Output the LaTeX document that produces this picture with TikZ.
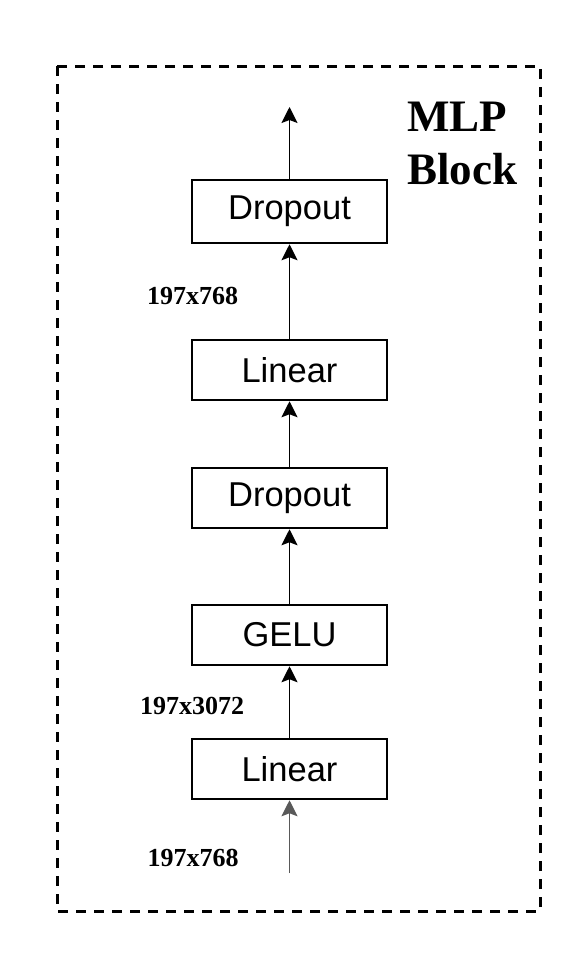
\documentclass[tikz,border=0pt]{standalone}
\usepackage{fontspec}
\setmainfont{Liberation Serif}
\newfontfamily\boxfont{Liberation Sans}
\usepackage{tikz}
\usetikzlibrary{positioning,arrows.meta}

\begin{document}
\begin{tikzpicture}[
      x=1pt, y=-1pt,
      node distance=70pt,
      block/.style={draw, line width=2.5pt, minimum width=195pt, minimum height=60pt, inner sep=0pt, font=\boxfont\fontsize{34.5}{40}\selectfont},
      dimlabel/.style={inner sep=0pt, font=\bfseries\fontsize{26}{30}\selectfont},
      arrow/.style={-{Stealth[length=16pt, width=16pt, inset=3pt]}, line width=1.5pt},
      frame/.style={line width=3pt, dash pattern=on 10pt off 8pt}
    ]
    \useasboundingbox (0,0) rectangle (569,964);
    \draw[frame] (57,66) rectangle (540,911);
    \node[inner sep=0pt, anchor=north west, align=left, font=\bfseries\fontsize{45}{53}\selectfont] (title) at (407,102) {MLP\\Block};

    \node[block] (lin1) at (289.5,769) {Linear};
    \node[block] (gelu) [above=71.5pt of lin1] {GELU};
    \node[block] (drop1) [above=74.5pt of gelu] {Dropout};
    \node[block] (lin2) [above=65.5pt of drop1] {Linear};
    \node[block, minimum height=63pt] (drop2) [above=94.5pt of lin2] {Dropout};

    \coordinate (in) at (289.5,873);
    \coordinate (out) at (289.5,107);

    \draw[arrow, black!65] (in) -- (lin1);
    \draw[arrow] (lin1) -- (gelu);
    \draw[arrow] (gelu) -- (drop1);
    \draw[arrow] (drop1) -- (lin2);
    \draw[arrow] (lin2) -- (drop2);
    \draw[arrow] (drop2) -- (out);

    \node[dimlabel] (d3) at (192.5,296) {197x768};
    \node[dimlabel] (d2) at (192,706) {197x3072};
    \node[dimlabel] (d1) at (193,858) {197x768};
  \end{tikzpicture}
\end{document}
